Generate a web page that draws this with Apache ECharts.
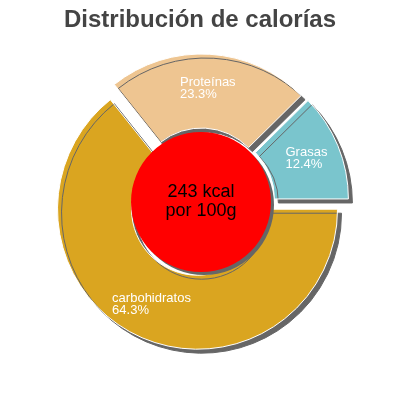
<!DOCTYPE html>
<html>
<head>
<meta charset="utf-8">
<script src="https://cdn.jsdelivr.net/npm/echarts@6/dist/echarts.min.js"></script>
<style>
  html, body { margin: 0; padding: 0; background: #fff; }
  #chart { width: 400px; height: 400px; }
</style>
</head>
<body>
<div id="chart"></div>
<script>
// datos: porcentaje de calorías por nutriente
const categories = ['Grasas', 'Proteínas', 'carbohidratos'];
const percents = [12.4, 23.3, 64.3];
const colors = ['#7AC5CD', '#EEC591', '#DAA520'];
const totalKcal = 243;

const chart = echarts.init(document.getElementById('chart'));

const option = {
  animation: false,
  title: {
    text: 'Distribución de calorías',
    left: 'center',
    top: 3,
    textStyle: {
      fontFamily: 'Liberation Sans',
      fontSize: 24,
      fontWeight: 'bold',
      color: '#444444'
    }
  },
  series: [
    {
      type: 'pie',
      center: [201, 202],
      radius: [66, 140],
      startAngle: 0,
      clockwise: false,
      selectedMode: 'multiple',
      selectedOffset: 8,
      label: {
        position: 'inside',
        formatter: '{n|{b}}\n{n|{c}%}',
        color: '#ffffff',
        fontFamily: 'Liberation Sans',
        fontSize: 13,
        lineHeight: 12,
        rich: {
          n: { align: 'left', fontSize: 13, lineHeight: 12, color: '#ffffff', fontFamily: 'Liberation Sans' }
        }
      },
      labelLine: { show: false },
      itemStyle: {
        borderColor: '#ffffff',
        borderWidth: 1,
        shadowColor: '#666666',
        shadowOffsetX: 4,
        shadowOffsetY: 4,
        shadowBlur: 0
      },
      emphasis: { disabled: true },
      data: categories.map((name, i) => ({
        name,
        value: percents[i],
        selected: true,
        itemStyle: { color: colors[i] }
      }))
    },
    {
      type: 'pie',
      center: [201, 202],
      radius: [0, 70],
      silent: true,
      label: {
        position: 'center',
        formatter: totalKcal + ' kcal\npor 100g',
        color: '#000000',
        fontFamily: 'Liberation Sans',
        fontSize: 18,
        lineHeight: 19
      },
      labelLine: { show: false },
      itemStyle: {
        color: '#FF0000',
        shadowColor: '#666666',
        shadowOffsetX: 3,
        shadowOffsetY: 3,
        shadowBlur: 0
      },
      emphasis: { disabled: true },
      data: [{ name: 'total', value: totalKcal }]
    }
  ]
};

chart.setOption(option);
</script>
</body>
</html>
